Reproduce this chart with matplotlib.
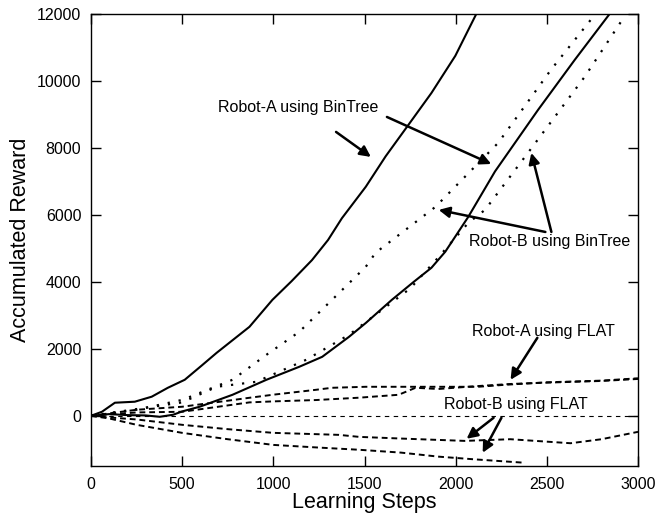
import matplotlib
matplotlib.use("Agg")
import matplotlib.pyplot as plt

plt.rcParams['font.family'] = ['Liberation Sans', 'DejaVu Sans']

# Robot-A using BinTree (solid)
a1_x = [0, 60, 131, 240, 333, 421, 514, 607, 689, 869, 995, 1100, 1212, 1300, 1376, 1507, 1616, 1741, 1867, 1998, 2113]
a1_y = [0, 120, 390, 420, 570, 835, 1075, 1500, 1880, 2657, 3463, 4020, 4650, 5250, 5900, 6840, 7750, 8690, 9640, 10750, 12000]
a2_x = [0, 100, 200, 300, 377, 450, 500, 596, 776, 962, 1142, 1268, 1415, 1508, 1650, 1770, 1867, 1943, 2069, 2216, 2451, 2653, 2844]
a2_y = [0, 50, 20, 10, -30, 30, 130, 270, 627, 1075, 1463, 1761, 2358, 2776, 3463, 4000, 4420, 4900, 5940, 7300, 9130, 10630, 12000]

# Robot-B using BinTree (dotted)
b1_x = [0, 250, 503, 776, 962, 1142, 1322, 1507, 1561, 1796, 1889, 2161, 2233, 2399, 2522, 2579, 2740, 2780]
b1_y = [0, 180, 478, 1075, 1821, 2507, 3463, 4450, 4870, 5850, 6240, 7750, 8150, 9400, 10330, 10720, 11820, 12100]
b2_x = [0, 250, 500, 689, 907, 1180, 1415, 1596, 1750, 1900, 2069, 2161, 2396, 2707, 2931]
b2_y = [0, 200, 400, 866, 1015, 1672, 2418, 3164, 3800, 4700, 5760, 6150, 7850, 10120, 11970]

# Robot-A using FLAT (dashed)
fa1_x = [0, 250, 500, 750, 868, 1000, 1234, 1321, 1507, 1780, 2123, 2270, 2500, 2800, 3000]
fa1_y = [0, 180, 270, 450, 537, 630, 776, 836, 866, 866, 866, 925, 1000, 1050, 1120]
fa2_x = [0, 250, 500, 869, 1000, 1234, 1470, 1687, 1780, 1905, 2100, 2300, 2500, 2800, 3000]
fa2_y = [0, 100, 120, 400, 430, 470, 540, 627, 836, 800, 880, 950, 990, 1040, 1100]

# Robot-B using FLAT (dashed)
fb1_x = [0, 100, 250, 500, 750, 1000, 1360, 1470, 1700, 2050, 2300, 2630, 2800, 3000]
fb1_y = [0, -50, -110, -270, -400, -510, -570, -630, -680, -750, -700, -820, -700, -480]
fb2_x = [0, 100, 250, 500, 750, 1000, 1250, 1470, 1700, 1905, 2100, 2370]
fb2_y = [0, -80, -270, -510, -700, -870, -950, -1015, -1100, -1220, -1300, -1400]

zero_x = [0, 3000]
zero_y = [0, 0]

x_ticks = [0, 500, 1000, 1500, 2000, 2500, 3000]
y_ticks = [0, 2000, 4000, 6000, 8000, 10000, 12000]

fig = plt.figure(figsize=(6.56, 5.18), dpi=100)
ax = fig.add_axes([91/656, 1-466/518, (638-91)/656, (466-14)/518])

ax.plot(zero_x, zero_y, color='black', lw=0.8, dashes=(4, 4))
for xs, ys in [(a1_x, a1_y), (a2_x, a2_y)]:
    ax.plot(xs, ys, color='black', lw=1.5, solid_joinstyle='round')
for xs, ys in [(b1_x, b1_y), (b2_x, b2_y)]:
    ax.plot(xs, ys, color='black', lw=1.6, dashes=(1, 4))
for xs, ys in [(fa1_x, fa1_y), (fa2_x, fa2_y), (fb1_x, fb1_y), (fb2_x, fb2_y)]:
    ax.plot(xs, ys, color='black', lw=1.4, dashes=(3, 2))

ax.set_xlim(0, 3000)
ax.set_ylim(-1500, 12000)
ax.set_xticks(x_ticks)
ax.set_yticks(y_ticks)
ax.tick_params(direction='in', length=7, width=1, top=True, right=True,
               labelsize=11.5)
ax.tick_params(axis='x', pad=8)
ax.tick_params(axis='y', pad=7)
for s in ax.spines.values():
    s.set_linewidth(1)

ax.set_xlabel('Learning Steps', fontsize=15.5, labelpad=0)
ax.set_ylabel('Accumulated Reward', fontsize=15.5, labelpad=4)

fs = 11.5
ap = dict(arrowstyle='-|>', lw=1.8, color='black', mutation_scale=16,
          shrinkA=0, shrinkB=0)

ax.text(1135, 9194, 'Robot-A using BinTree', fontsize=fs, ha='center', va='center')
ax.annotate('', xy=(1535, 7731), xytext=(1344, 8478), arrowprops=ap)
ax.annotate('', xy=(2195, 7520), xytext=(1623, 8925), arrowprops=ap)

ax.text(2513, 5194, 'Robot-B using BinTree', fontsize=fs, ha='center', va='center')
ax.annotate('', xy=(1907, 6149), xytext=(2492, 5490), arrowprops=ap)
ax.annotate('', xy=(2415, 7851), xytext=(2525, 5490), arrowprops=ap)

ax.text(2481, 2507, 'Robot-A using FLAT', fontsize=fs, ha='center', va='center')
ax.annotate('', xy=(2301, 1075), xytext=(2448, 2328), arrowprops=ap)

ax.text(2328, 328, 'Robot-B using FLAT', fontsize=fs, ha='center', va='center')
ax.annotate('', xy=(2060, -687), xytext=(2208, -60), arrowprops=ap)
ax.annotate('', xy=(2148, -1104), xytext=(2251, -60), arrowprops=ap)

fig.savefig('out.png', dpi=100)
